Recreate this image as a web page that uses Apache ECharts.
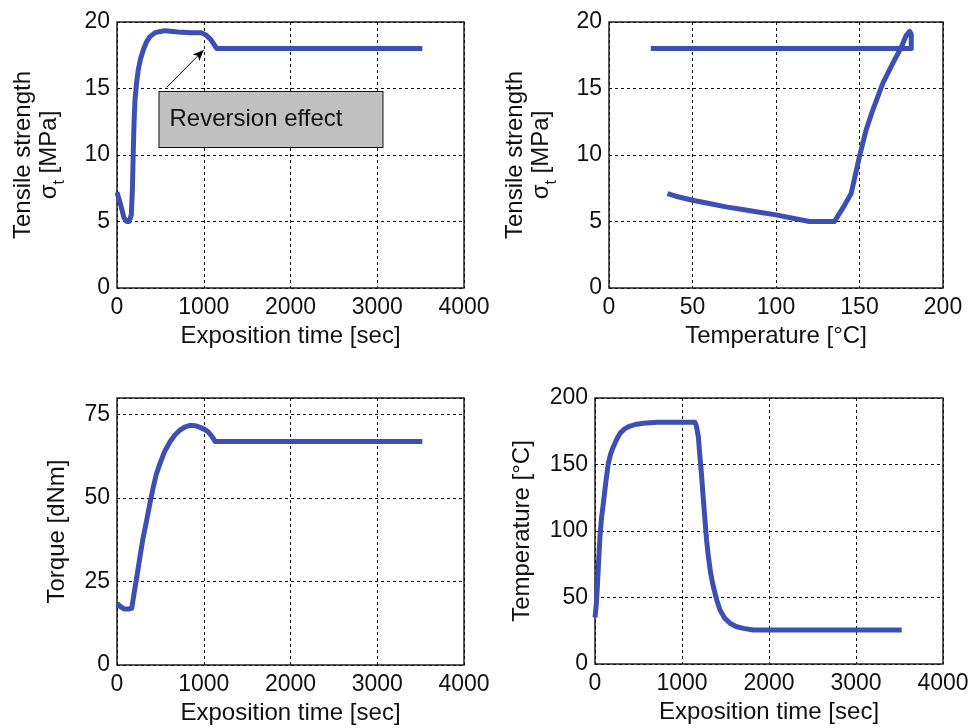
<!DOCTYPE html>
<html><head><meta charset="utf-8">
<script src="https://cdn.jsdelivr.net/npm/echarts@6/dist/echarts.min.js"></script>
<style>html,body{margin:0;padding:0;background:#fff}#c{width:973px;height:728px}</style>
</head><body><div id="c"></div>
<script>
// ---- data ----
const timeTicks = [0, 1000, 2000, 3000, 4000];
const tempTicks = [0, 50, 100, 150, 200];
const strengthTicks = [0, 5, 10, 15, 20];
const torqueTicks = [0, 25, 50, 75];
const tempYTicks = [0, 50, 100, 150, 200];

// Panel 1: tensile strength vs exposition time
const p1Time     = [0, 40, 80, 110, 140, 165, 178, 188, 197, 207, 225, 245, 270, 303, 340, 380, 440, 514, 560, 700, 850, 970, 1030, 1080, 1120, 1150, 3520];
const p1Strength = [7.2, 6.3, 5.3, 5.0, 5.0, 5.5, 7.5, 10.4, 12.5, 14.1, 15.4, 16.4, 17.2, 17.9, 18.5, 18.9, 19.2, 19.3, 19.35, 19.25, 19.2, 19.2, 19.0, 18.7, 18.3, 18.0, 18.0];

// Panel 2: tensile strength vs temperature
const p2Temp     = [35, 40, 50, 60, 70, 80, 90, 100, 110, 120, 135, 140, 145, 150, 154, 158, 164, 170, 175, 178, 180, 181, 181, 25];
const p2Strength = [7.1, 6.9, 6.6, 6.35, 6.1, 5.9, 5.7, 5.5, 5.25, 5.0, 5.0, 6.0, 7.1, 9.9, 11.9, 13.4, 15.4, 16.9, 18.1, 19.0, 19.3, 19.1, 18.0, 18.0];

// Panel 3: torque vs exposition time
const p3Time   = [0, 40, 80, 130, 170, 200, 235, 265, 300, 342, 380, 419, 455, 496, 550, 611, 670, 726, 780, 841, 900, 957, 1010, 1053, 1095, 1130, 3520];
const p3Torque = [18.5, 17.5, 16.8, 16.8, 17.0, 22, 27.5, 32.5, 38, 43.4, 48.5, 53.4, 57.3, 60.4, 64, 66.9, 69, 70.4, 71.3, 71.8, 71.7, 71.2, 70.6, 69.8, 68.5, 67.0, 67.0];

// Panel 4: temperature vs exposition time
const p4Time = [0, 15, 27, 40, 57, 75, 96, 125, 153, 180, 211, 250, 287, 340, 402, 480, 556, 709, 900, 1149, 1165, 1188, 1205, 1226, 1245, 1264, 1283, 1303, 1330, 1360, 1400, 1437, 1490, 1552, 1620, 1705, 1820, 3525];
const p4Temp = [35, 45, 58, 75, 95.7, 110, 120.8, 137, 150.9, 158, 163.4, 169, 173.4, 176.8, 178.9, 180.3, 181, 181.7, 181.7, 181.7, 179, 170.9, 157, 140.8, 124, 108.3, 93, 80.7, 68, 58.1, 48, 40.6, 34.5, 30.6, 28.2, 26.8, 25.6, 25.6];

// annotation
const annotText = 'Reversion effect';
const annotBox = [1775, 12.67];
const arrowFrom = [575, 15.1];
const arrowTo = [1000, 17.9];

// ---- build ----
const zip = (a, b) => a.map((v, i) => [v, b[i]]);
const FONT = '"Liberation Sans", Arial, sans-serif';
const BLUE = '#3c50b4';
const TXT = '#111';

const grids = [
  { left: 117, top: 22, width: 347, height: 266 },
  { left: 609, top: 22, width: 334, height: 266 },
  { left: 117, top: 398, width: 347, height: 267 },
  { left: 595, top: 398, width: 348, height: 266 }
].map(g => Object.assign(g, { show: true, borderColor: '#222', borderWidth: 1.5, backgroundColor: 'transparent' }));

const splitLine = { show: true, lineStyle: { color: '#111', type: [3, 3], width: 1 } };

function xAxis(gi, ticks, name) {
  const step = ticks[1] - ticks[0];
  return {
    type: 'value', gridIndex: gi, min: ticks[0], max: ticks[ticks.length - 1], interval: step,
    name: name, nameLocation: 'middle', nameGap: 36,
    nameTextStyle: { fontFamily: FONT, fontSize: 24, color: TXT },
    axisLine: { show: false }, axisTick: { show: false },
    axisLabel: { fontFamily: FONT, fontSize: 23, color: TXT, margin: 8,
      formatter: v => (ticks.indexOf(v) >= 0 ? String(v) : '') },
    splitLine: splitLine
  };
}
function yAxis(gi, ticks, max, name, gap, rich) {
  const step = ticks[1] - ticks[0];
  return {
    type: 'value', gridIndex: gi, min: ticks[0], max: max, interval: step,
    name: name, nameLocation: 'middle', nameGap: gap,
    nameTextStyle: Object.assign({ fontFamily: FONT, fontSize: 24, color: TXT, lineHeight: 26 }, rich ? { rich: rich } : {}),
    axisLine: { show: false }, axisTick: { show: false },
    axisLabel: { fontFamily: FONT, fontSize: 23, color: TXT, margin: 7,
      formatter: v => (ticks.indexOf(v) >= 0 ? String(v) : '') },
    splitLine: splitLine
  };
}

const sigmaRich = {
  m: { fontFamily: FONT, fontSize: 24, color: TXT, lineHeight: 26 },
  sub: { fontFamily: FONT, fontSize: 16, color: TXT, lineHeight: 26, verticalAlign: 'bottom', padding: [0, 0, -6, 0] }
};
const sigmaName = 'Tensile strength\n{m|σ}{sub|t}{m| [MPa]}';

function lineSeries(xi, data, extra) {
  return Object.assign({
    type: 'line', xAxisIndex: xi, yAxisIndex: xi, data: data,
    showSymbol: false, symbol: 'none', silent: true,
    lineStyle: { color: BLUE, width: 5, join: 'round' },
    emphasis: { disabled: true }
  }, extra || {});
}

const option = {
  animation: false,
  backgroundColor: '#fff',
  grid: grids,
  xAxis: [
    xAxis(0, timeTicks, 'Exposition time [sec]'),
    xAxis(1, tempTicks, 'Temperature [°C]'),
    xAxis(2, timeTicks, 'Exposition time [sec]'),
    xAxis(3, timeTicks, 'Exposition time [sec]')
  ],
  yAxis: [
    yAxis(0, strengthTicks, 20, sigmaName, 55, sigmaRich),
    yAxis(1, strengthTicks, 20, sigmaName, 55, sigmaRich),
    yAxis(2, torqueTicks, 80, 'Torque [dNm]', 47),
    yAxis(3, tempYTicks, 200, 'Temperature [°C]', 60)
  ],
  series: [
    lineSeries(0, zip(p1Time, p1Strength), {
      markLine: {
        silent: true, symbol: ['none', 'arrow'], symbolSize: [7, 11],
        lineStyle: { type: 'solid', color: '#000', width: 1 },
        label: { show: false }, emphasis: { disabled: true },
        data: [[{ coord: arrowFrom }, { coord: arrowTo }]]
      },
      markPoint: {
        silent: true, symbol: 'circle', symbolSize: 0,
        itemStyle: { color: 'transparent' },
        label: { show: true, position: 'inside', formatter: annotText,
          fontFamily: FONT, fontSize: 24, color: TXT, lineHeight: 25,
          backgroundColor: '#c0c0c0', borderColor: '#111', borderWidth: 1,
          padding: [15, 40, 15, 10] },
        emphasis: { disabled: true },
        data: [{ coord: annotBox }]
      }
    }),
    lineSeries(1, zip(p2Temp, p2Strength)),
    lineSeries(2, zip(p3Time, p3Torque)),
    lineSeries(3, zip(p4Time, p4Temp))
  ]
};

const chart = echarts.init(document.getElementById('c'), null, { renderer: 'canvas' });
chart.setOption(option);
</script>
</body></html>
